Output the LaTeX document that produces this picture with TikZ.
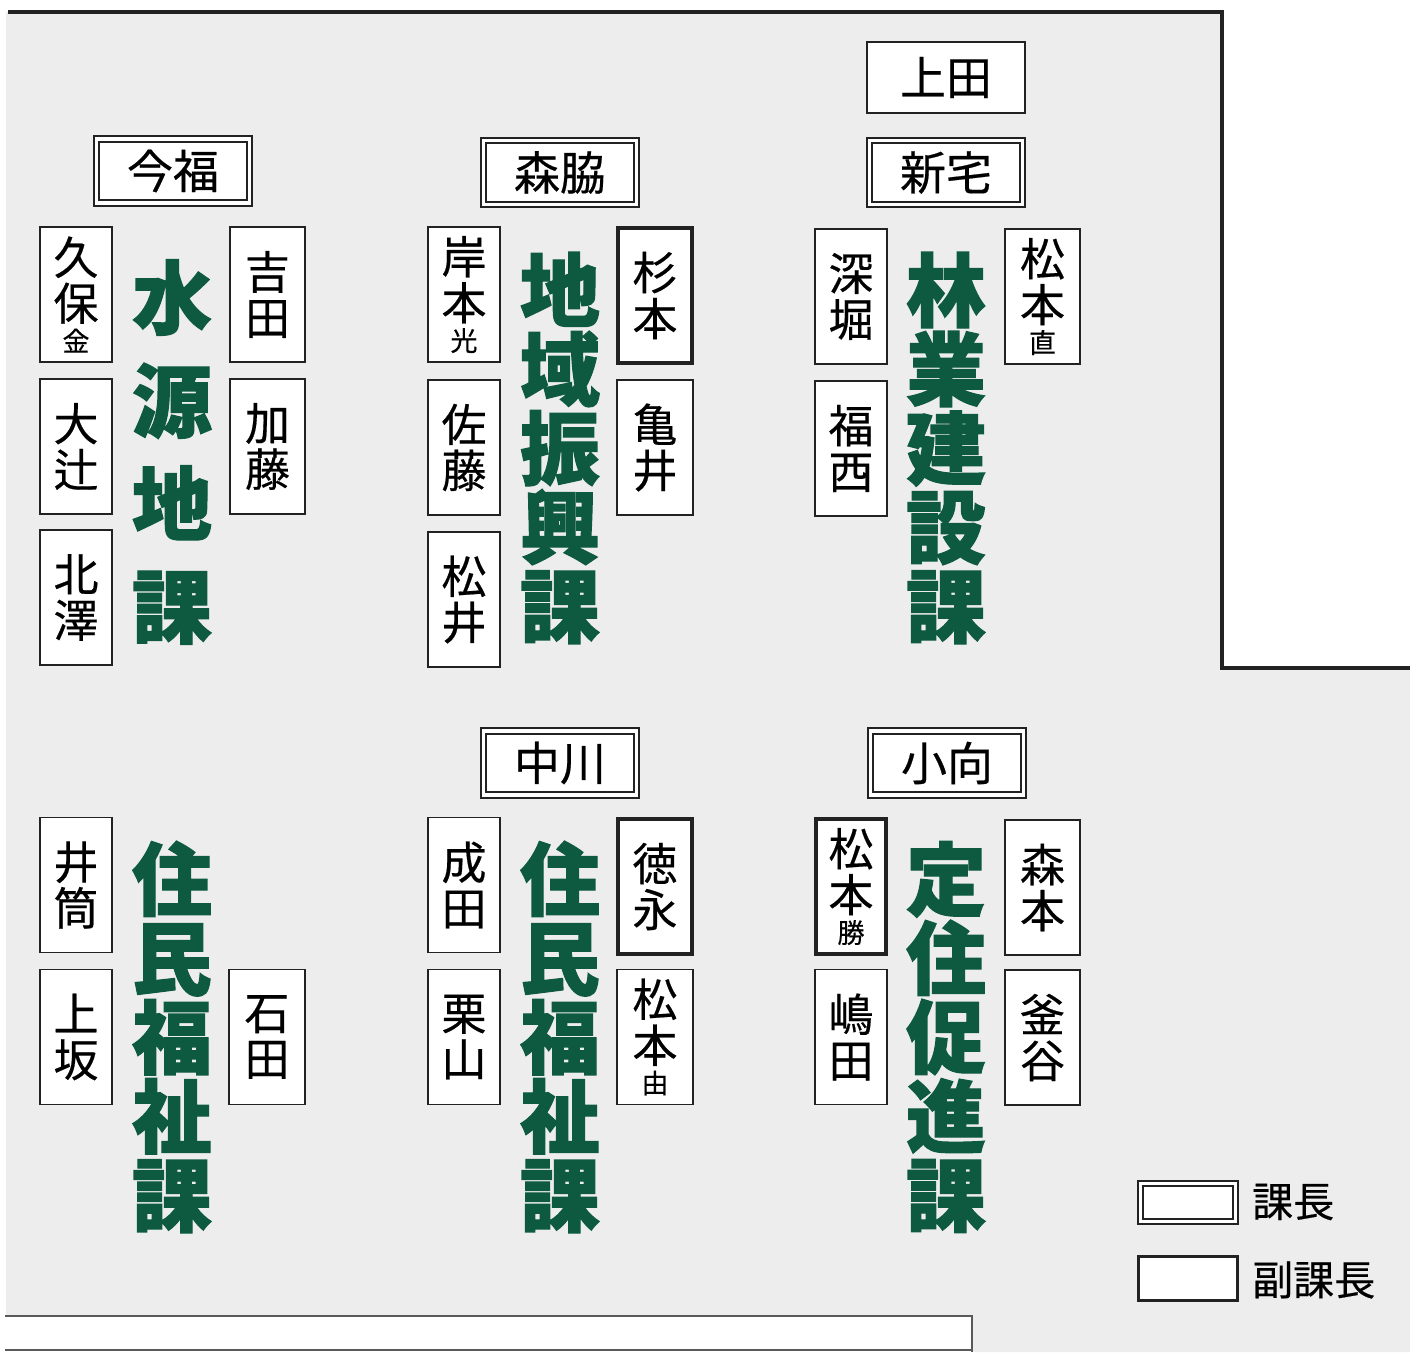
\documentclass[tikz,border=0pt]{standalone}
\usepackage{fontspec}
\newfontfamily\jp[FakeBold=0.4]{Noto Sans CJK JP}
\newfontfamily\heavy[BoldFeatures={FakeBold=1.4}]{Noto Sans CJK JP}
\definecolor{bg}{HTML}{EDEDED}
\definecolor{kagreen}{HTML}{0E5A41}
\definecolor{edge}{HTML}{222222}
\newcommand{\sm}[1]{{\fontsize{27}{27}\selectfont #1}}
\tikzset{
  person/.style={draw=edge, fill=white, line width=1.4pt, minimum width=72pt, minimum height=135pt, inner sep=0pt, align=center, font=\jp\fontsize{45}{46}\selectfont},
  vice/.style={person, line width=3.4pt},
  chief/.style={draw=edge, double=white, line width=1.8pt, double distance=3.6pt, fill=white, minimum width=153pt, minimum height=64pt, inner sep=0pt, font=\jp\fontsize{46}{46}\selectfont},
  plain/.style={draw=edge, fill=white, line width=1.6pt, minimum width=158pt, minimum height=71pt, inner sep=0pt, font=\jp\fontsize{46}{46}\selectfont},
  titlefour/.style={text=kagreen, align=center, inner sep=0pt, font=\heavy\bfseries\fontsize{80}{103}\selectfont},
  titlefive/.style={text=kagreen, align=center, inner sep=0pt, font=\heavy\bfseries\fontsize{80}{79}\selectfont},
  legendtext/.style={anchor=west, inner sep=0pt, font=\jp\fontsize{41}{41}\selectfont}
}
\begin{document}
\begin{tikzpicture}[x=1pt,y=-1pt]
\useasboundingbox (0,0) rectangle (1410,1352);
\fill[white] (0,0) rectangle (1410,1352);
\fill[bg] (6,12) -- (1222,12) -- (1222,668) -- (1410,668) -- (1410,1352) -- (972,1352) -- (972,1316) -- (6,1316) -- cycle;
\draw[edge, line width=3.5pt] (8,12) -- (1222,12) -- (1222,668) -- (1410,668);
\draw[gray!70!black, line width=1.8pt] (5,1316) -- (972,1316) -- (972,1352);
\draw[gray!70!black, line width=1.5pt] (5,1350) -- (972,1350);

% Section 1
\node[chief] (imafuku) at (173,171) {今福};
\node[person] (kubo) at (76,294.5) {久\\保\\[-15pt]\sm{金}};
\node[person] (otsuji) at (76,446.5) {大\\辻};
\node[person] (kitazawa) at (76,597.5) {北\\澤};
\node[person, minimum width=75pt] (yoshida) at (267.5,294.5) {吉\\田};
\node[person, minimum width=75pt] (kato) at (267.5,446.5) {加\\藤};
\node[titlefour] (t1) at (172,452) {水\\源\\地\\課};

% Section 2
\node[chief] (moriwaki) at (560,172.5) {森脇};
\node[person] (kishimoto) at (464,294.5) {岸\\本\\[-15pt]\sm{光}};
\node[person] (sato) at (464,447.5) {佐\\藤};
\node[person] (matsui) at (464,599.5) {松\\井};
\node[vice, minimum width=74pt] (sugimoto) at (655,295.5) {杉\\本};
\node[person, minimum width=76pt] (kamei) at (655,447.5) {亀\\井};
\node[titlefive] (t2) at (560,448) {地\\域\\振\\興\\課};

% Section 3
\node[plain] (ueda) at (946,77.5) {上田};
\node[chief] (shintaku) at (946,172.5) {新宅};
\node[person] (fukabori) at (851,296.5) {深\\堀};
\node[person] (fukunishi) at (851,448.5) {福\\西};
\node[person, minimum width=75pt] (matsumotoN) at (1042.5,296.5) {松\\本\\[-15pt]\sm{直}};
\node[titlefive] (t3) at (946,448) {林\\業\\建\\設\\課};

% Section 4
\node[person] (izutsu) at (76,885) {井\\筒};
\node[person] (uesaka) at (76,1037) {上\\坂};
\node[person, minimum width=76pt] (ishida) at (267,1037) {石\\田};
\node[titlefive] (t4) at (172,1037) {住\\民\\福\\祉\\課};

% Section 5
\node[chief] (nakagawa) at (560,763) {中川};
\node[person] (narita) at (464,885) {成\\田};
\node[person] (kuriyama) at (464,1037) {栗\\山};
\node[vice, minimum width=74pt] (tokunaga) at (655,886.5) {徳\\永};
\node[person, minimum width=76pt] (matsumotoY) at (655,1037) {松\\本\\[-15pt]\sm{由}};
\node[titlefive] (t5) at (560,1037) {住\\民\\福\\祉\\課};

% Section 6
\node[chief] (komukai) at (947,763) {小向};
\node[vice, minimum width=70pt] (matsumotoK) at (851,886.5) {松\\本\\[-15pt]\sm{勝}};
\node[person] (shimada) at (851,1037) {嶋\\田};
\node[person, minimum width=75pt] (morimoto) at (1042.5,887.5) {森\\本};
\node[person, minimum width=75pt] (kamaya) at (1042.5,1037.5) {釜\\谷};
\node[titlefive] (t6) at (946,1037) {定\\住\\促\\進\\課};

% Legend
\node[chief, minimum width=95pt, minimum height=38pt] (legchief) at (1188,1202.5) {};
\node[legendtext] (legchieftext) at (1252,1202) {課長};
\node[vice, minimum width=99pt, minimum height=44pt] (legvice) at (1188,1278.5) {};
\node[legendtext] (legvicetext) at (1252,1280) {副課長};
\end{tikzpicture}
\end{document}
